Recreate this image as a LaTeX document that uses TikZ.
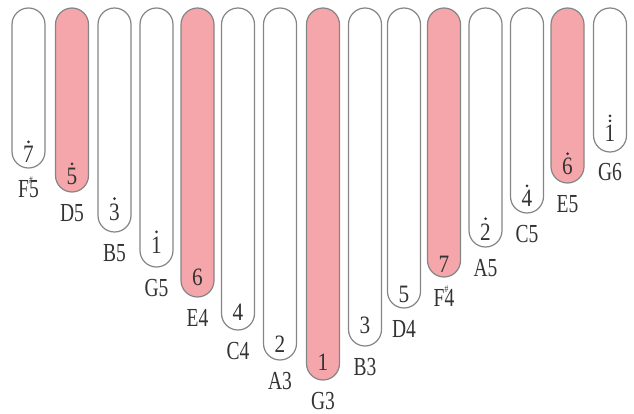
\documentclass[tikz,border=0pt]{standalone}
\usepackage{fontspec}
\setmainfont{Liberation Serif}
\definecolor{tinepink}{HTML}{F4A6AA}
\definecolor{tinegray}{HTML}{858585}
\definecolor{txt}{HTML}{333333}
\newcommand\shp{\rlap{\raisebox{1.1ex}{\fontsize{10}{10}\selectfont\#}}}
\begin{document}
\begin{tikzpicture}[x=1pt,y=-1pt,
 tine/.style={draw=tinegray,line width=1.2pt,rounded corners=16.5pt},
 digit/.style={font=\fontsize{25}{25}\selectfont,text=txt,inner sep=0pt,anchor=base},
 lab/.style={font=\fontsize{26}{26}\selectfont,text=txt,inner sep=0pt,anchor=base},
 hdot/.style={fill=txt,draw=none}]
\useasboundingbox (0,0) rectangle (634,414);
\foreach \x/\b/\n/\k/\f/\o/\l [count=\i] in {
 28.5/168/7/1/white/5/{F\shp 5},
 72/192/5/1/tinepink/7/{D5},
 114.5/232/3/1/white/12/{B5},
 156.5/267/1/1/white/14/{G5},
 197.5/297/6/0/tinepink/12/{E4},
 238/330/4/0/white/10/{C4},
 280/360/2/0/white/8/{A3},
 323/380/1/0/tinepink/10/{G3},
 365/346/3/0/white/13/{B3},
 404/308/5/0/white/6/{D4},
 444/277/7/0/tinepink/5/{F\shp 4},
 485.5/247/2/1/white/7/{A5},
 527/213/4/1/white/6/{C5},
 567.5/183/6/1/tinepink/8/{E5},
 610/152/1/2/white/10/{G6}}
{
 \draw[tine,fill=\f] (\x-16.5,8) rectangle (\x+16.5,\b);
 \node[digit] (d\i) at (\x,\b-\o) {\scalebox{0.85}[1]{\n}};
 \node[lab] (l\i) at (\x,\b+29) {\scalebox{0.75}[1]{\l}};
 \ifnum\k>0 \fill[hdot] ([yshift=4.5pt]d\i.north) circle (1.5pt); \fi
 \ifnum\k>1 \fill[hdot] ([yshift=9.5pt]d\i.north) circle (1.5pt); \fi
}
\end{tikzpicture}
\end{document}
